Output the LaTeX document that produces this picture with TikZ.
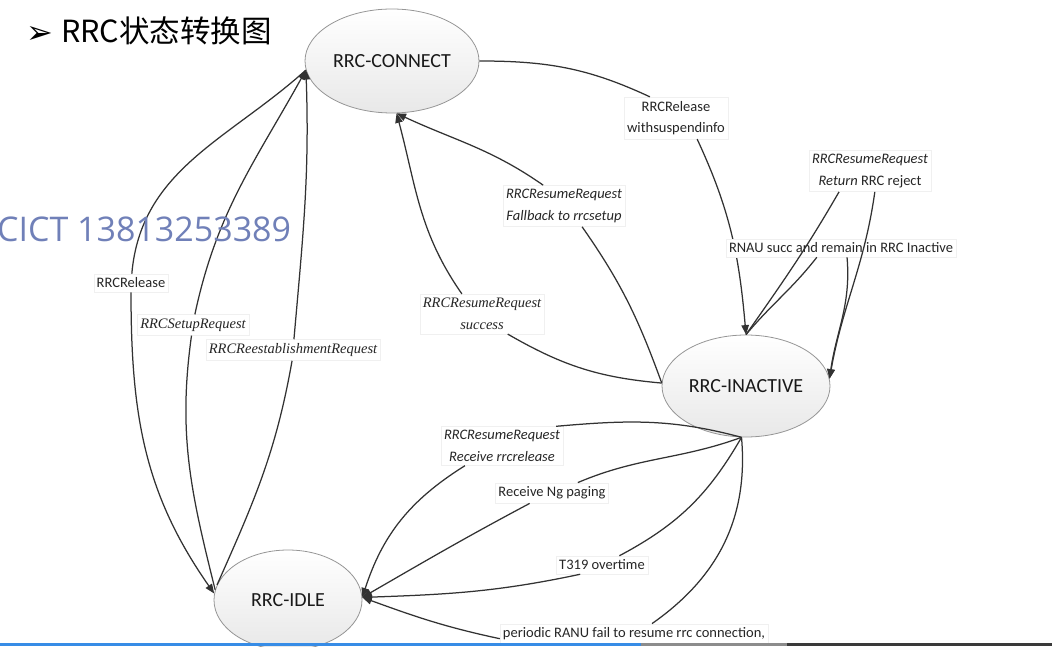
\documentclass[tikz,border=0pt]{standalone}
\usepackage{fontspec}
\setmainfont{Carlito}
\newfontfamily\tmsfont{Liberation Serif}
\newfontfamily\cjkfont{Noto Sans CJK SC}
\newfontfamily\wmfont{Open Sans}
\newfontfamily\symfont{DejaVu Sans}
\usetikzlibrary{arrows.meta,shapes.geometric}
\definecolor{edgec}{RGB}{50,50,50}
\definecolor{ellc}{RGB}{150,150,150}
\definecolor{wmc}{RGB}{112,128,184}
\definecolor{barblue}{RGB}{55,140,230}
\definecolor{bargray}{RGB}{140,140,140}
\definecolor{bardark}{RGB}{58,58,58}

\begin{document}
\begin{tikzpicture}[
  x=1pt, y=1pt,
  state/.style={ellipse, draw=ellc, line width=0.8pt, top color=white, bottom color=black!9,
                inner sep=0pt, font=\fontsize{20}{24}\selectfont, text=black!90},
  lbl/.style={fill=white, draw=black!6, line width=0.4pt, inner xsep=3pt, inner ysep=4pt,
              align=center, font=\fontsize{14.5}{21.5}\selectfont, text=black!85},
  ilbl/.style={lbl, font=\fontsize{14.5}{21.5}\selectfont\itshape},
  tlbl/.style={lbl, font=\tmsfont\fontsize{14.5}{22}\selectfont\itshape},
  arr/.style={draw=edgec, line width=1.25pt, -{Triangle[length=9.5pt,width=7.5pt]}},
]
\useasboundingbox (0,0) rectangle (1052,646);
\clip (0,0) rectangle (1052,646);

% ---------------- title ----------------
\node[inner sep=0pt, font=\symfont\fontsize{32}{36}\selectfont] (bullet) at (40,611) {➢};
\node[anchor=base west, inner sep=0pt, font=\cjkfont\fontsize{30.5}{36}\selectfont] (title) at (61,603) {RRC状态转换图};

% ---------------- the three states ----------------
\node[state, minimum width=174pt, minimum height=104pt] (conn)  at (392,585) {RRC-CONNECT};
\node[state, minimum width=168pt, minimum height=102pt] (inact) at (746,260) {RRC-INACTIVE};
\node[state, minimum width=148pt, minimum height=100pt] (idle)  at (288,46)  {RRC-IDLE};

% ---------------- transition labels ----------------
\node[lbl]  (lrel)     at (676,528) {RRCRelease\\withsuspendinfo};
\node[lbl]  (lrej)     at (870,475) {\textit{RRCResumeRequest}\\\textit{Return} RRC reject};
\node[ilbl] (lfall)    at (564,440) {RRCResumeRequest\\Fallback to rrcsetup};
\node[tlbl] (lsucc)    at (482,332) {RRCResumeRequest\\success};
\node[lbl]  (lrelease) at (131,363) {RRCRelease};
\node[tlbl] (lsetup)   at (193,321) {RRCSetupRequest};
\node[tlbl] (lreest)   at (293,296) {RRCReestablishmentRequest};
\node[ilbl] (lrecv)    at (502,200) {RRCResumeRequest\\Receive rrcrelease};
\node[lbl]  (lng)      at (552,153) {Receive Ng paging};
\node[lbl]  (lt319)    at (602,81)  {T319 overtime};
\node[lbl]  (lper)     at (634,12)  {periodic RANU fail to resume rrc connection,};

% ---------------- connect <-> idle ----------------
\draw[arr] (conn.186) to[out=222,in=85] (lrelease.85) (lrelease.-90) to[out=-90,in=125] (idle.175);
\draw[arr] (idle.172) to[out=104,in=-98] (lsetup.-98) (lsetup.80) to[out=78,in=241] (conn.186);
\draw[arr] (idle.168) to[out=66,in=-100] (lreest.-95) (lreest.85) to[out=85,in=-88] (conn.186);

% ---------------- connect -> inactive ----------------
\draw[arr] (conn.east) to[out=0,in=155] (lrel.141) (lrel.-45) to[out=-65,in=95] (inact.north);

% self loops on inactive (label covers the line above)
\node[lbl] (lrnau) at (841,398) {RNAU succ and remain in RRC Inactive};
\draw[arr] (inact.north) to[out=55,in=-120] (lrej.-146) (lrej.-77) to[out=-98,in=80] (inact.5);
\draw[arr] (inact.north) to[out=50,in=-128] (lrnau.-159) (lrnau.-57) to[out=-85,in=82] (inact.5);

% ---------------- inactive -> connect ----------------
\draw[arr] (inact.178) to[out=110,in=-55] (lfall.-49) (lfall.135) to[out=145,in=-25] (conn.-85);
\draw[arr] (inact.178) to[out=175,in=-30] (lsucc.-38) (lsucc.135) to[out=125,in=-75] (conn.-85);

% ---------------- inactive -> idle ----------------
\draw[arr] (inact.-95) to[out=165,in=5]   (lrecv.20)  (lrecv.-152) to[out=212,in=72]  (idle.2);
\draw[arr] (inact.-95) to[out=200,in=23]  (lng.22)    (lng.-155)   to[out=208,in=30]  (idle.2);
\draw[arr] (inact.-95) to[out=240,in=28]  (lt319.28)  (lt319.-157) to[out=192,in=2]   (idle.2);
\draw[arr] (inact.-95) to[out=-85,in=35]  (lper.30)   (lper.-178)  to[out=168,in=-20] (idle.2);

% ---------------- player bar and watermark ----------------
\fill[barblue] (0,0) rectangle (641,3.5);
\fill[bargray] (641,0) rectangle (787,3.5);
\fill[bardark] (787,0) rectangle (1052,3.5);
\node[anchor=base west, inner sep=0pt, font=\wmfont\fontsize{34}{40}\selectfont, text=wmc] (wm) at (-3,404) {CICT 13813253389};

\end{tikzpicture}
\end{document}
